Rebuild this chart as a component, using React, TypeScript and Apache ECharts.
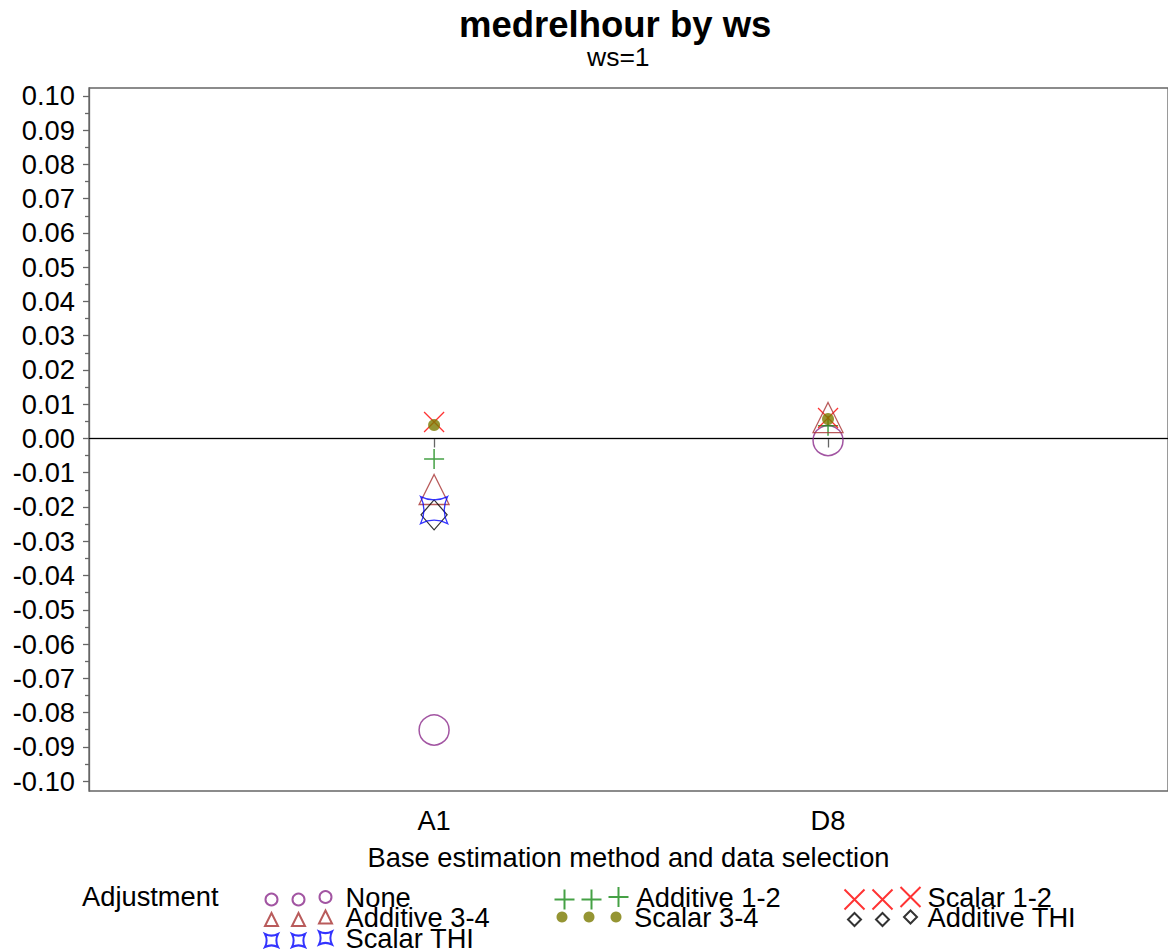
import React, { useEffect, useRef } from 'react';
import * as echarts from 'echarts';

// ---- data ----
const categories = ['A1', 'D8'];
const seriesNames = ['None', 'Additive 1-2', 'Scalar 1-2', 'Additive 3-4', 'Scalar 3-4', 'Additive THI', 'Scalar THI'];
const noneVals = [-0.0851, -0.0006];
const add12Vals = [-0.006, 0.0037];
const scal12Vals = [0.0048, 0.006];
const add34Vals = [-0.0149, 0.0061];
const scal34Vals = [0.0039, 0.0057];
const addTHIVals = [-0.0223, null];
const scalTHIVals = [-0.0209, null];
const yTickLabels = ['-0.10', '-0.09', '-0.08', '-0.07', '-0.06', '-0.05', '-0.04', '-0.03', '-0.02', '-0.01', '0.00',
  '0.01', '0.02', '0.03', '0.04', '0.05', '0.06', '0.07', '0.08', '0.09', '0.10'];
const yMinorTicks = [-0.095, -0.085, -0.075, -0.065, -0.055, -0.045, -0.035, -0.025, -0.015, -0.005,
  0.005, 0.015, 0.025, 0.035, 0.045, 0.055, 0.065, 0.075, 0.085, 0.095];
const titleText = 'medrelhour by ws';
const subTitleText = 'ws=1';
const xAxisName = 'Base estimation method and data selection';
const legendTitle = 'Adjustment';

const allVals = [noneVals, add12Vals, scal12Vals, add34Vals, scal34Vals, addTHIVals, scalTHIVals];

// ---- styles ----
const FONT = '"Liberation Sans", Arial, Helvetica, sans-serif';
const FS = 27.3;
const PLUS = 'path://M5,0L5,10M0,5L10,5';
const CROSS = 'path://M0,0L10,10M10,0L0,10';
const CSQ = 'path://M0,0Q5,2.5 10,0Q7.5,5 10,10Q5,7.5 0,10Q2.5,5 0,0Z';

const styles = [
  { symbol: 'circle', size: 30, color: '#8B2A8B', fill: false, lw: 1.5, lsize: 12, col: 0, row: 0 },
  { symbol: PLUS, size: 20, color: '#178A17', fill: false, lw: 1.5, lsize: 20, col: 1, row: 0 },
  { symbol: CROSS, size: 20, color: '#FF0000', fill: false, lw: 1.3, lsize: 20, col: 2, row: 0 },
  { symbol: 'triangle', size: 30, color: '#A83232', fill: false, lw: 1.3, lsize: 13, col: 0, row: 1 },
  { symbol: 'circle', size: 12, color: '#7A7A00', fill: true, lw: 0, lsize: 11, col: 1, row: 1 },
  { symbol: 'diamond', size: [26, 30], color: '#000000', fill: false, lw: 1.3, lsize: 13, col: 2, row: 1 },
  { symbol: CSQ, size: 27, color: '#0000FF', fill: false, lw: 1.3, lsize: 13, col: 0, row: 2 },
];

const colIcons = [[269, 296, 323], [562, 589, 616], [852, 880, 908]];
const colText = [343, 634, 925];
const rowY = [897, 917, 938];

export default function App() {
  const ref = useRef<HTMLDivElement>(null);
  useEffect(() => {
    if (!ref.current) return;
    const chart = echarts.init(ref.current, undefined, { renderer: 'svg' });
    const yTickVals = yTickLabels.map(Number);

    const series: any[] = seriesNames.map((name, i) => {
      const st = styles[i];
      const data = allVals[i]
        .map((v, ci) => (v === null ? null : [ci + 1, v]))
        .filter((d) => d !== null);
      const s: any = {
        name,
        type: 'scatter',
        data,
        symbol: st.symbol,
        symbolSize: st.size,
        itemStyle: st.fill
          ? { color: st.color }
          : { color: 'none', borderColor: st.color, borderWidth: st.lw },
        emphasis: { disabled: true },
        z: 3 + i,
      };
      if (i === 0) {
        s.markLine = {
          silent: true,
          symbol: 'none',
          label: { show: false },
          lineStyle: { color: '#000', width: 1, type: 'solid' },
          data: [{ yAxis: 0 }],
          z: 1,
        };
      }
      return s;
    });

    const legends: any[] = [];
    seriesNames.forEach((name, i) => {
      const st = styles[i];
      const icons = colIcons[st.col];
      const cy = rowY[st.row];
      icons.forEach((cx, k) => {
        const isLast = k === icons.length - 1;
        const left = cx - st.lsize / 2;
        const pad = colText[st.col] - (left + st.lsize + 5);
        legends.push({
          data: [name],
          left,
          top: isLast ? cy - 14 : cy - st.lsize / 2,
          padding: 0,
          itemGap: 0,
          selectedMode: false,
          itemWidth: st.lsize,
          itemHeight: st.lsize,
          formatter: isLast ? '{name}' : () => '',
          textStyle: isLast
            ? { fontSize: FS, lineHeight: 28, fontFamily: FONT, color: '#000', padding: [0, 0, 0, pad] }
            : { fontSize: 1, lineHeight: 1, fontFamily: FONT, color: '#000' },
        });
      });
    });

    chart.setOption({
      animation: false,
      backgroundColor: '#fff',
      textStyle: { fontFamily: FONT },
      title: [
        { text: titleText, left: 459, top: 6, padding: 0, textStyle: { fontSize: 36.5, fontWeight: 'bold', color: '#000', fontFamily: FONT } },
        { text: subTitleText, left: 587, top: 43, padding: 0, textStyle: { fontSize: 26.5, fontWeight: 'normal', color: '#000', fontFamily: FONT } },
        { text: legendTitle, left: 82, top: 883, padding: 0, textStyle: { fontSize: FS, fontWeight: 'normal', color: '#000', fontFamily: FONT } },
      ],
      legend: legends,
      grid: { left: 89, top: 88, right: -3, height: 703, show: true, borderColor: '#666', borderWidth: 1.3, containLabel: false },
      xAxis: {
        type: 'value',
        min: 0.124,
        max: 2.863,
        splitLine: { show: false },
        axisLine: { show: true, lineStyle: { color: '#666', width: 1.3 } },
        axisTick: { show: true, customValues: [1, 2], length: 9, lineStyle: { color: '#666', width: 1.3 } },
        axisLabel: {
          customValues: [1, 2],
          formatter: (v: number) => categories[Math.round(v) - 1] ?? '',
          fontSize: FS, color: '#000', margin: 16, fontFamily: FONT,
        },
        name: xAxisName,
        nameLocation: 'middle',
        nameGap: 53,
        nameTextStyle: { fontSize: FS, color: '#000', fontFamily: FONT },
      },
      yAxis: [
        {
          type: 'value',
          min: -0.1029,
          max: 0.1023,
          splitLine: { show: false },
          axisLine: { show: true, lineStyle: { color: '#666', width: 1.3 } },
          axisTick: { show: true, customValues: yTickVals, length: 6, lineStyle: { color: '#666', width: 1.3 } },
          axisLabel: {
            customValues: yTickVals,
            formatter: (v: number) => {
              const idx = yTickVals.findIndex((t) => Math.abs(t - v) < 1e-9);
              return idx >= 0 ? yTickLabels[idx] : v.toFixed(2);
            },
            fontSize: FS, color: '#000', margin: 14, fontFamily: FONT,
          },
        },
        {
          type: 'value',
          min: -0.1029,
          max: 0.1023,
          splitLine: { show: false },
          axisLine: { show: false },
          axisTick: { show: true, customValues: yMinorTicks, length: 4, lineStyle: { color: '#666', width: 1.3 } },
          axisLabel: { show: false },
          position: 'left',
        },
      ],
      series,
    });
    return () => chart.dispose();
  }, []);
  return <div ref={ref} style={{ position: 'absolute', left: 0, top: 0, width: 1168, height: 949 }} />;
}
